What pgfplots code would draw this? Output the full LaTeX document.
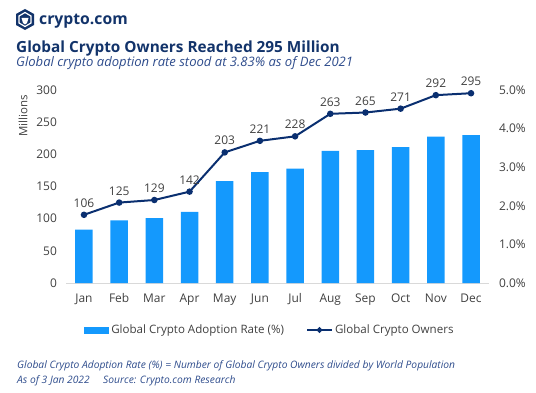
\documentclass[border=0pt]{standalone}
\usepackage{fontspec}
\setmainfont{Open Sans}
\usepackage{pgfplots}
\pgfplotsset{compat=1.18}
\definecolor{navy}{HTML}{12336A}
\definecolor{barblue}{HTML}{1499FD}
\definecolor{linenavy}{HTML}{0A2F70}
\definecolor{txtgray}{HTML}{404040}
\definecolor{note}{HTML}{2E4C8C}
\definecolor{basegray}{HTML}{D9D9D9}
\pgfplotstableread{
x rate owners
0 1.38 106
1 1.62 125
2 1.68 129
3 1.84 142
4 2.64 203
5 2.87 221
6 2.96 228
7 3.42 263
8 3.44 265
9 3.52 271
10 3.79 292
11 3.83 295
}\data
\begin{document}
\begin{tikzpicture}[x=1bp,y=1bp]
\path[use as bounding box] (0,0) rectangle (536,392);
% logo
\fill[navy] (25,383) -- (34,378) -- (34,367) -- (25,362) -- (16,367) -- (16,378) -- cycle;
\draw[white,line width=1.2bp] (25,379.5) -- (31,376) -- (31,369) -- (25,365.5) -- (19,369) -- (19,376) -- cycle;
\fill[white] (21.5,374) -- (28.5,374) -- (27,369) -- (25,367.5) -- (23,369) -- cycle;
\node[anchor=base west, inner sep=0, text=navy, font=\fontsize{15.8}{19}\selectfont\bfseries] at (39,368) {crypto.com};
\node[anchor=base west, inner sep=0, text=navy, font=\fontsize{15.4}{18}\selectfont\bfseries] at (16,340) {Global Crypto Owners Reached 295 Million};
\node[anchor=base west, inner sep=0, text=note, font=\fontsize{13.1}{15}\selectfont\itshape] at (16,326) {Global crypto adoption rate stood at 3.83\% as of Dec 2021};
\node[rotate=90, inner sep=0, text=txtgray, font=\fontsize{11.5}{13}\selectfont] at (23,276) {Millions};
\node[anchor=base west, inner sep=0, text=note, font=\fontsize{10.3}{12}\selectfont\itshape] at (17,24) {Global Crypto Adoption Rate (\%) = Number of Global Crypto Owners divided by World Population};
\node[anchor=base west, inner sep=0, text=note, font=\fontsize{10.3}{12}\selectfont\itshape] at (17,9) {As of 3 Jan 2022};
\node[anchor=base west, inner sep=0, text=note, font=\fontsize{10.3}{12}\selectfont\itshape] at (103,9) {Source: Crypto.com Research};
\begin{axis}[
  at={(66.4bp,109bp)}, anchor=south west,
  scale only axis, width=422.2bp, height=193bp,
  xmin=-0.5, xmax=11.5, ymin=0, ymax=5,
  axis y line*=right, axis x line*=bottom,
  x axis line style={draw=basegray, line width=0.8bp},
  y axis line style={draw=none},
  xtick=data, xticklabels={Jan,Feb,Mar,Apr,May,Jun,Jul,Aug,Sep,Oct,Nov,Dec},
  ytick={0,1,2,3,4,5},
  yticklabel={\pgfmathprintnumber[fixed,fixed zerofill,precision=1]{\tick}\%},
  major tick length=0pt,
  tick label style={text=txtgray, font=\fontsize{12}{14}\selectfont},
  /pgf/number format/assume math mode=true,
  yticklabel style={xshift=7bp},
  xticklabel style={yshift=-7bp},
  legend style={at={(0.482,-0.2435)}, anchor=center, draw=none, fill=none,
    font=\fontsize{11.6}{14}\selectfont, text=txtgray, legend columns=2,
    /tikz/every even column/.append style={column sep=20bp}},
  legend cell align=left,
]
\addplot[ybar, bar width=17.5bp, fill=barblue, draw=none,
  legend image code/.code={\fill[barblue] (0bp,-3.5bp) rectangle (25bp,3.5bp);}]
  table[x=x,y=rate]{\data};
\addlegendentry{Global Crypto Adoption Rate (\%)}
\addlegendimage{linenavy, line width=2bp, mark=*, mark size=1.6bp,
  legend image code/.code={\draw[linenavy,line width=2bp] (0bp,0bp) -- (25bp,0bp); \fill[linenavy] (12.5bp,0bp) circle (1.8bp);}}
\addlegendentry{Global Crypto Owners}
\end{axis}
\begin{axis}[
  at={(66.4bp,109bp)}, anchor=south west,
  scale only axis, width=422.2bp, height=193bp,
  xmin=-0.5, xmax=11.5, ymin=0, ymax=300,
  axis y line*=left, axis x line=none,
  y axis line style={draw=none},
  ytick={0,50,...,300},
  major tick length=0pt,
  tick label style={text=txtgray, font=\fontsize{12}{14}\selectfont},
  /pgf/number format/assume math mode=true,
  yticklabel style={xshift=-6bp},
]
\addplot[linenavy, line width=2bp, mark=*, mark size=2.2bp,
  nodes near coords, point meta=explicit,
  every node near coord/.style={text=txtgray, font=\fontsize{12}{14}\selectfont, anchor=south, yshift=3bp}]
  table[x=x,y=owners,meta=owners]{\data};
\end{axis}
\end{tikzpicture}
\end{document}
